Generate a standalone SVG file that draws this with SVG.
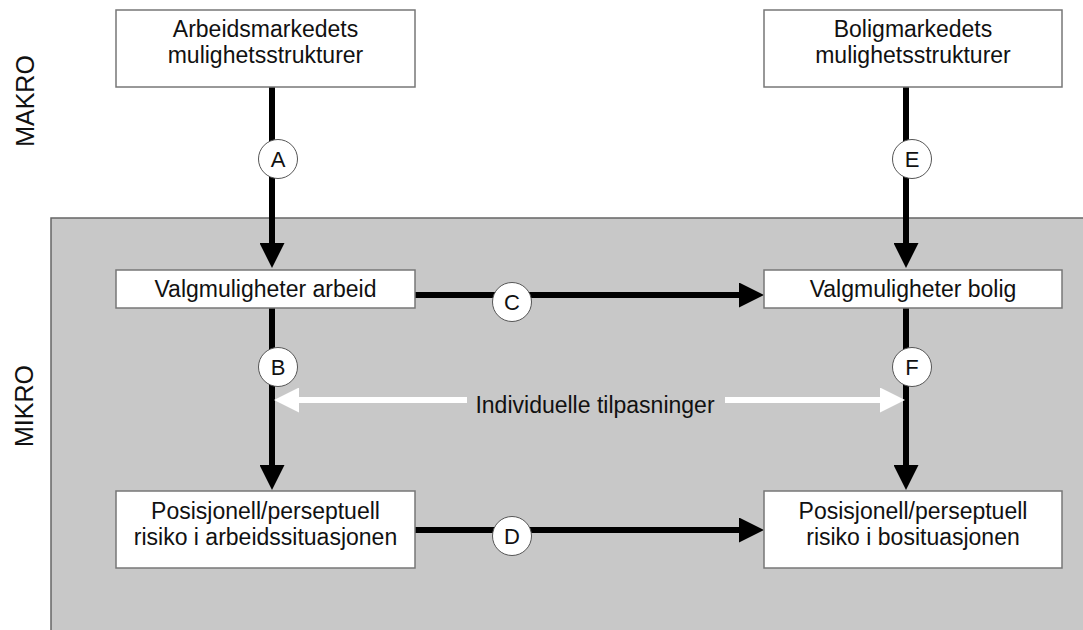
<svg xmlns="http://www.w3.org/2000/svg" width="1083" height="630" viewBox="0 0 1083 630">
<defs>
<style>
text{font-family:"Liberation Sans",Arial,Helvetica,sans-serif;fill:#111;}
.box{fill:#fff;stroke:#777;stroke-width:1.5;}
.lbl{font-size:23px;text-anchor:middle;}
.side{font-size:25px;text-anchor:middle;}
.con{stroke:#000;stroke-width:6;fill:none;}
.wcon{stroke:#fff;stroke-width:6;fill:none;}
.badge circle{fill:#fff;stroke:#555;stroke-width:1;}
.badge text{font-size:22px;text-anchor:middle;}
</style>
<marker id="ah" markerUnits="userSpaceOnUse" viewBox="0 0 25 25" markerWidth="25" markerHeight="25" refX="1" refY="12.5" orient="auto">
<path d="M0,0 L25,12.5 L0,25 z" fill="#000"/>
</marker>
<marker id="wh" markerUnits="userSpaceOnUse" viewBox="0 0 25 25" markerWidth="25" markerHeight="25" refX="1" refY="12.5" orient="auto">
<path d="M0,0 L25,12.5 L0,25 z" fill="#fff"/>
</marker>
</defs>
<rect width="1083" height="630" fill="#fff"/>
<g id="mikro-region">
<rect x="51" y="218" width="1040" height="420" fill="#c8c8c8" stroke="#666" stroke-width="1.5"/>
</g>
<g id="side-labels">
<text class="side" transform="translate(34,101) rotate(-90)">MAKRO</text>
<text class="side" transform="translate(33,406) rotate(-90)">MIKRO</text>
</g>
<g id="connectors">
<line class="con" x1="272" y1="87" x2="272" y2="244" marker-end="url(#ah)"/>
<line class="con" x1="906" y1="87" x2="906" y2="244" marker-end="url(#ah)"/>
<line class="con" x1="272" y1="308" x2="272" y2="466" marker-end="url(#ah)"/>
<line class="con" x1="906" y1="308" x2="906" y2="466" marker-end="url(#ah)"/>
<line class="con" x1="415" y1="295" x2="740" y2="295" marker-end="url(#ah)"/>
<line class="con" x1="415" y1="530" x2="740" y2="530" marker-end="url(#ah)"/>
<line class="wcon" x1="467" y1="400" x2="298" y2="400" marker-end="url(#wh)"/>
<line class="wcon" x1="725" y1="400" x2="881" y2="400" marker-end="url(#wh)"/>
<text class="lbl" x="595" y="413">Individuelle tilpasninger</text>
</g>
<g id="badges">
<g class="badge" id="badge-A"><circle cx="278" cy="159" r="19.5"/><text x="278" y="167">A</text></g>
<g class="badge" id="badge-E"><circle cx="912" cy="159" r="19.5"/><text x="912" y="167">E</text></g>
<g class="badge" id="badge-B"><circle cx="278" cy="367" r="19.5"/><text x="278" y="375">B</text></g>
<g class="badge" id="badge-F"><circle cx="912" cy="367" r="19.5"/><text x="912" y="375">F</text></g>
<g class="badge" id="badge-C"><circle cx="512" cy="302" r="19.5"/><text x="512" y="310">C</text></g>
<g class="badge" id="badge-D"><circle cx="512" cy="536" r="19.5"/><text x="512" y="544">D</text></g>
</g>
<g id="node-arbeidsmarked">
<rect class="box" x="116" y="10" width="299" height="77"/>
<text class="lbl" x="265.5" y="37">Arbeidsmarkedets</text>
<text class="lbl" x="265.5" y="63">mulighetsstrukturer</text>
</g>
<g id="node-boligmarked">
<rect class="box" x="764" y="10" width="298" height="77"/>
<text class="lbl" x="913" y="37">Boligmarkedets</text>
<text class="lbl" x="913" y="63">mulighetsstrukturer</text>
</g>
<g id="node-valg-arbeid">
<rect class="box" x="116" y="270" width="299" height="38"/>
<text class="lbl" x="265.5" y="297">Valgmuligheter arbeid</text>
</g>
<g id="node-valg-bolig">
<rect class="box" x="764" y="270" width="298" height="38"/>
<text class="lbl" x="913" y="297">Valgmuligheter bolig</text>
</g>
<g id="node-risiko-arbeid">
<rect class="box" x="116" y="491" width="299" height="77"/>
<text class="lbl" x="265.5" y="519">Posisjonell/perseptuell</text>
<text class="lbl" x="265.5" y="545">risiko i arbeidssituasjonen</text>
</g>
<g id="node-risiko-bolig">
<rect class="box" x="764" y="491" width="298" height="77"/>
<text class="lbl" x="913" y="519">Posisjonell/perseptuell</text>
<text class="lbl" x="913" y="545">risiko i bosituasjonen</text>
</g>
</svg>
